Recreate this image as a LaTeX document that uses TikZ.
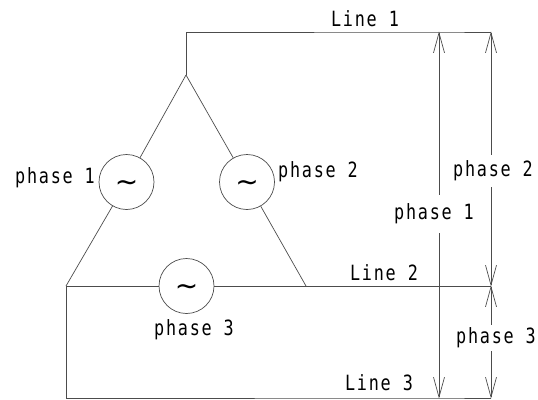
\documentclass[tikz,border=0pt]{standalone}
\usepackage{fontspec}
\setmainfont[FakeStretch=0.8,LetterSpace=8.4]{DejaVu Sans Mono}
\newfontfamily\wavefont{DejaVu Sans}
\newcommand{\wave}{\raisebox{-9pt}[0pt][0pt]{∼}}
\usetikzlibrary{arrows.meta}
\usetikzlibrary{positioning}

\begin{document}
\begin{tikzpicture}[-,auto,x=1pt,y=-1pt,line width=0.7pt,color=black!70]
	\tikzstyle{source}=[circle, draw, fill=white, minimum size=55pt, inner sep=0pt, text=black, font=\wavefont\fontsize{28}{28}\selectfont]
	\tikzstyle{tag}=[text=black, font=\fontsize{21}{24}\selectfont, inner sep=0pt]
	\tikzstyle{cut}=[tag, fill=white, inner xsep=0pt]
	\tikzstyle{span}=[{Straight Barb[length=20pt,width=11pt]}-{Straight Barb[length=20pt,width=11pt]}, shorten <=-0.5pt, shorten >=-0.5pt]
	\useasboundingbox (0,0) rectangle (538,399);
	% corners of the triangle and the lines
	\coordinate (apex) at (186,75);
	\coordinate (top) at (186,32);
	\coordinate (left) at (66,286);
	\coordinate (right) at (306,286);
	\coordinate (low) at (66,398);
	\coordinate (t1) at (439,32);
	\coordinate (t2) at (491,32);
	\coordinate (m2) at (491,286);
	\coordinate (b1) at (439,398);
	\coordinate (b2) at (491,398);
	% the three sources
	\node[source] (s1) at (126.5,182) {\wave};
	\node[source] (s2) at (247,182) {\wave};
	\node[source] (s3) at (186.5,286) {\wave};
	\draw (apex) -- (s1) -- (left);
	\draw (apex) -- (s2) -- (right);
	\draw (left) -- (s3) -- (right);
	\draw (apex) -- (top) -- (t1) -- (t2);
	\draw (right) -- (m2);
	\draw (left) -- (low) -- (b1) -- (b2);
	% voltage spans
	\draw[span] (t1) -- (b1);
	\draw[span] (t2) -- (m2);
	\draw[span] (m2) -- (b2);
	\node[cut, inner ysep=9pt] (v1) at (434,214) {phase 1};
	\node[cut, inner ysep=6pt] (v2) at (493,171) {phase 2};
	\node[cut, inner ysep=3pt] (v3) at (496,338) {phase 3};
	% labels
	\node[tag] (l1) at (365,19) {Line 1};
	\node[tag] (l2) at (384,273) {Line 2};
	\node[tag] (l3) at (379,383) {Line 3};
	\node[tag] (p1) at (55,178) {phase 1};
	\node[tag] (p2) at (318,172) {phase 2};
	\node[tag] (p3) at (194,330) {phase 3};
\end{tikzpicture}
\end{document}
